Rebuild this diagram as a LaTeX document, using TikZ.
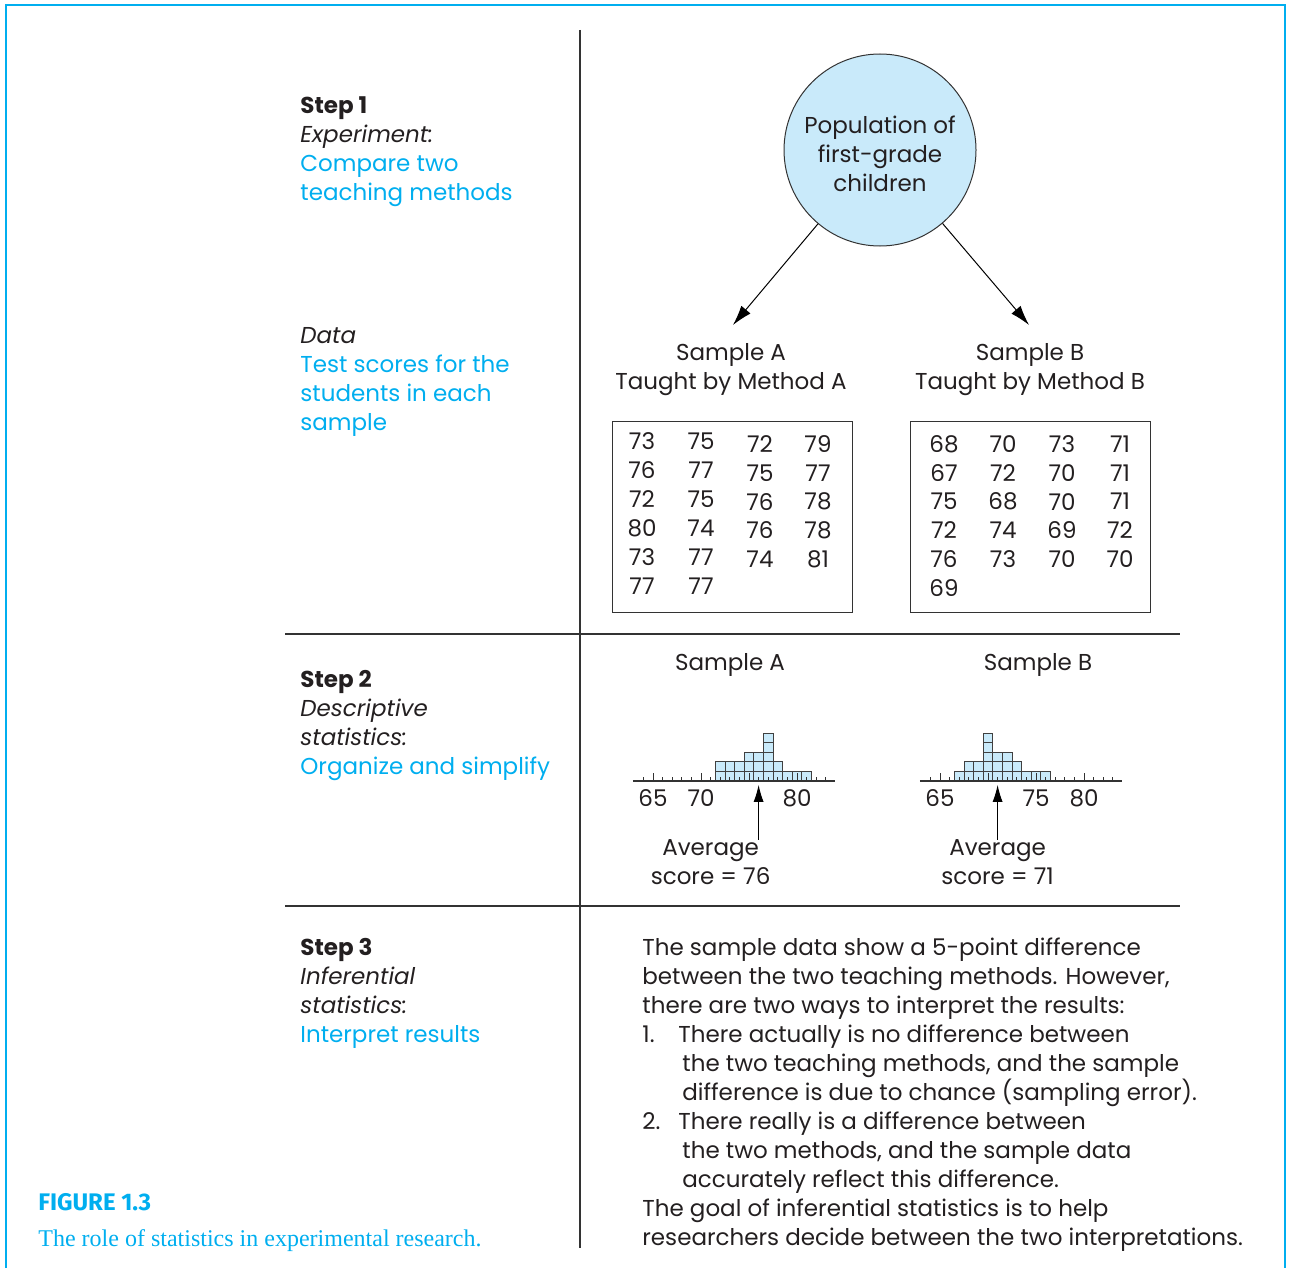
\documentclass[tikz,border=0pt]{standalone}
\usepackage{fontspec}
\setmainfont{Poppins}
\newfontfamily\capserif{Liberation Serif}
\newfontfamily\capsans{Fira Sans}
\usetikzlibrary{arrows.meta}
\definecolor{figcyan}{RGB}{0,174,239}
\definecolor{popblue}{RGB}{201,234,250}
\definecolor{inkgray}{RGB}{35,31,32}
\newcommand{\bodyfont}{\fontsize{11.5}{14.5}\selectfont}
\tikzset{
  txt/.style={anchor=north west, inner sep=0pt, align=left, font=\bodyfont, text=inkgray},
  ctr/.style={inner sep=0pt, align=center, font=\bodyfont, text=inkgray},
  num/.style={inner sep=0pt, font=\bodyfont, text=inkgray},
  rule/.style={line width=0.6pt, draw=black!80},
  databox/.style={draw=black!80, line width=0.5pt, minimum width=120pt, minimum height=95.5pt},
  bar/.style={draw=black!75, fill=popblue, line width=0.4pt},
  tick/.style={line width=0.4pt, draw=black!80},
  popline/.style={-{Latex[length=10pt,width=6pt]}, line width=0.5pt},
  avgline/.style={-{Latex[length=8.5pt,width=5pt]}, line width=0.5pt}
}
\begin{document}
\begin{tikzpicture}[x=0.5pt,y=-0.5pt]
  \useasboundingbox (0,0) rectangle (1289,1268);
  \draw[figcyan, line width=1pt] (6,1268) -- (6,5) -- (1285,5) -- (1285,1268);

  \draw[rule] (580,30) -- (580,1248);
  \draw[rule] (285,634) -- (1180,634);
  \draw[rule] (285,906) -- (1180,906);

  \node[txt] (step1) at (300,96) {\textbf{Step 1}\\\textit{Experiment:}\\
    \textcolor{figcyan}{Compare two}\\\textcolor{figcyan}{teaching methods}};
  \node[txt] (data) at (300,327) {\textit{Data}\\\textcolor{figcyan}{Test scores for the}\\
    \textcolor{figcyan}{students in each}\\\textcolor{figcyan}{sample}};
  \node[txt] (step2) at (300,670) {\textbf{Step 2}\\\textit{Descriptive}\\\textit{statistics:}\\
    \textcolor{figcyan}{Organize and simplify}};
  \node[txt] (step3) at (300,938) {\textbf{Step 3}\\\textit{Inferential}\\\textit{statistics:}\\
    \textcolor{figcyan}{Interpret results}};

  \node[circle, draw=black!80, line width=0.5pt, fill=popblue, minimum size=96pt, inner sep=0pt] (pop) at (880,150) {};
  \node[ctr] (poptext) at (880,154) {Population of\\first-grade\\children};
  \node[ctr] (sa) at (731,370) {Sample A\\Taught by Method A};
  \node[ctr] (sb) at (1030,370) {Sample B\\Taught by Method B};
  \coordinate (ta) at (733,325);
  \coordinate (tb) at (1029,325);
  \draw[popline] (pop) -- (ta);
  \draw[popline] (pop) -- (tb);

  \node[databox] (boxa) at (732,516.5) {};
  \node[databox] (boxb) at (1030,516.5) {};
  \foreach \r/\a/\b/\c/\d in {0/73/75/72/79,1/76/77/75/77,2/72/75/76/78,3/80/74/76/78,4/73/77/74/81} {
    \node[num] (a\r1) at (642,{441+29*\r}) {\a};
    \node[num] (a\r2) at (701,{441+29*\r}) {\b};
    \node[num] (a\r3) at (760,{444+28.8*\r}) {\c};
    \node[num] (a\r4) at (818,{444+28.8*\r}) {\d};
  }
  \node[num] (a51) at (642,586) {77};
  \node[num] (a52) at (701,586) {77};
  \foreach \r/\a/\b/\c/\d in {0/68/70/73/71,1/67/72/70/71,2/75/68/70/71,3/72/74/69/72,4/76/73/70/70} {
    \node[num] (b\r1) at (944,{444+28.8*\r}) {\a};
    \node[num] (b\r2) at (1003,{444+28.8*\r}) {\b};
    \node[num] (b\r3) at (1062,{444+28.8*\r}) {\c};
    \node[num] (b\r4) at (1120,{444+28.8*\r}) {\d};
  }
  \node[num] (b51) at (944,588) {69};

  \node[ctr] (ha) at (730,665) {Sample A};
  \node[ctr] (hb) at (1038,665) {Sample B};

  \begin{scope}[shift={(653,781)}, x=4.8pt, y=4.8pt]
    \foreach \v/\h in {7/2,8/2,9/2,10/3,11/3,12/5,13/2,14/1,15/1,16/1}
      \foreach \k in {1,...,\h}
        \draw[bar] (\v-0.5,\k-1) rectangle (\v+0.5,\k);
    \draw[rule] (-2.1,0) -- (19,0);
    \foreach \t in {-1,...,18} \draw[tick] (\t,0) -- (\t,0.4);
    \foreach \t in {0,5,10,15} \draw[tick] (\t,0) -- (\t,0.8);
    \node[num] (la65) at (0,-1.77) {65};
    \node[num] (la70) at (5,-1.77) {70};
    \node[num] (la80) at (15,-1.77) {80};
    \coordinate (ma) at (11,-0.4);
    \node[ctr] (avga) at (6,-8.5) {Average\\score = 76};
    \draw[avgline] (avga.north -| ma) -- (ma);
  \end{scope}

  \begin{scope}[shift={(940,781)}, x=4.8pt, y=4.8pt]
    \foreach \v/\h in {2/1,3/2,4/2,5/5,6/3,7/3,8/2,9/1,10/1,11/1}
      \foreach \k in {1,...,\h}
        \draw[bar] (\v-0.5,\k-1) rectangle (\v+0.5,\k);
    \draw[rule] (-2.1,0) -- (19,0);
    \foreach \t in {-1,...,18} \draw[tick] (\t,0) -- (\t,0.4);
    \foreach \t in {0,5,10,15} \draw[tick] (\t,0) -- (\t,0.8);
    \node[num] (lb65) at (0,-1.77) {65};
    \node[num] (lb75) at (10,-1.77) {75};
    \node[num] (lb80) at (15,-1.77) {80};
    \coordinate (mb) at (6,-0.4);
    \node[ctr] (avgb) at (6,-8.5) {Average\\score = 71};
    \draw[avgline] (avgb.north -| mb) -- (mb);
  \end{scope}

  \node[txt] (interp) at (642,938) {The sample data show a 5-point difference\\
    between the two teaching methods. However,\\
    there are two ways to interpret the results:\\
    \makebox[18pt][l]{1.}There actually is no difference between\\
    \hspace*{20pt}the two teaching methods, and the sample\\
    \hspace*{20pt}difference is due to chance (sampling error).\\
    \makebox[18pt][l]{2.}There really is a difference between\\
    \hspace*{20pt}the two methods, and the sample data\\
    \hspace*{20pt}accurately reflect this difference.\\
    The goal of inferential statistics is to help\\
    researchers decide between the two interpretations.};

  \node[anchor=west, inner sep=0pt, font=\capsans\bfseries\fontsize{12}{14}\selectfont, text=figcyan] (fignum) at (38,1202) {FIGURE 1.3};
  \node[anchor=west, inner sep=0pt, font=\capserif\fontsize{12}{14}\selectfont, text=figcyan] (figcap) at (38,1241) {The role of statistics in experimental research.};
\end{tikzpicture}
\end{document}
